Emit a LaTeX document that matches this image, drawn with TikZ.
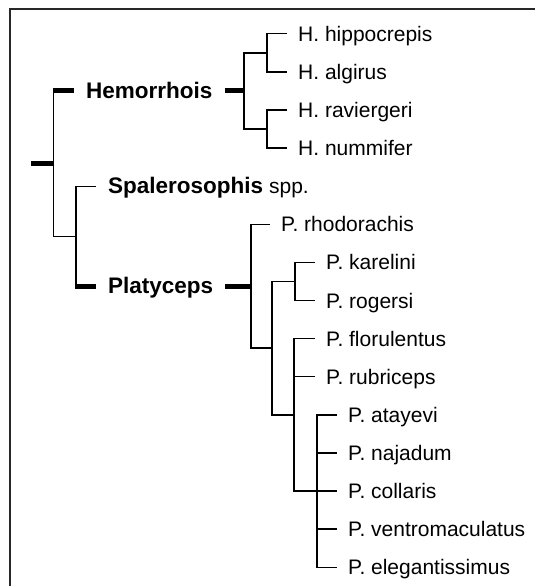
\documentclass[tikz,border=0pt]{standalone}
\usepackage{fontspec}
\setmainfont{Liberation Sans}
\definecolor{framec}{RGB}{40,40,40}
\newcommand\bd[1]{{\fontsize{22.5pt}{25pt}\selectfont\bfseries #1}}
\begin{document}
\begin{tikzpicture}[x=1pt,y=-1pt,
  branch/.style={line width=1.4pt, black},
  stub/.style={line width=5pt, black},
  frameline/.style={line width=2pt, framec},
  leaf/.style={anchor=west, inner xsep=11pt, inner ysep=0pt, text height=19pt, text depth=4pt,
    font=\fontsize{21pt}{24pt}\selectfont},
  clade/.style={anchor=west, inner xsep=12pt, inner ysep=0pt, text height=19pt, text depth=4pt,
    font=\fontsize{21pt}{24pt}\selectfont}]
\useasboundingbox (0,0) rectangle (535,586);
\draw[frameline] (10,590) -- (10,9.5) -- (540,9.5);

% leaves
\node[leaf] (hipp) at (287,33.8) {H. hippocrepis};
\node[leaf] (algi) at (287,71.9) {H. algirus};
\node[leaf] (ravi) at (287,110) {H. raviergeri};
\node[leaf] (numm) at (287,148.1) {H. nummifer};
\node[leaf] (rhod) at (270,224.3) {P. rhodorachis};
\node[leaf] (kare) at (315,262.4) {P. karelini};
\node[leaf] (roge) at (315,300.5) {P. rogersi};
\node[leaf] (flor) at (315,338.6) {P. florulentus};
\node[leaf] (rubr) at (315,376.7) {P. rubriceps};
\node[leaf] (atay) at (337,414.8) {P. atayevi};
\node[leaf] (naja) at (337,452.9) {P. najadum};
\node[leaf] (coll) at (337,491) {P. collaris};
\node[leaf] (vent) at (337,529.1) {P. ventromaculatus};
\node[leaf] (eleg) at (337,567.2) {P. elegantissimus};

% clade labels
\node[clade] (hem) at (74,90.95) {\bd{Hemorrhois}};
\node[clade] (spal) at (96,186.2) {\bd{Spalerosophis} spp.};
\node[clade] (pla) at (96,286.2) {\bd{Platyceps}};

% internal nodes
\coordinate (root0) at (31,163.6);
\coordinate (root) at (53.5,163.6);
\coordinate (hN) at (244,90.95);
\coordinate (hA) at (267,52.85);
\coordinate (hB) at (267,129.05);
\coordinate (sp) at (76,236.2);
\coordinate (pN) at (251,286.2);
\coordinate (q) at (272,348.1);
\coordinate (k) at (295,281.45);
\coordinate (f) at (294,414.8);
\coordinate (c) at (317,491);

% root
\draw[stub] (root0) -- (root);
\draw[branch] (root |- hem.west) -- (root |- sp) -- (sp);
\draw[stub] ([xshift=-0.7pt]root |- hem.west) -- (hem.west);

% Spalerosophis + Platyceps
\draw[branch] (sp |- spal.west) -- (sp |- pla.west);
\draw[branch] (sp |- spal.west) -- (spal.west);
\draw[stub] ([xshift=-0.7pt]sp |- pla.west) -- (pla.west);

% Hemorrhois
\draw[stub] (hem.east) -- (hN);
\draw[branch] (hA) -- (hN |- hA) -- (hN |- hB) -- (hB);
\draw[branch] (hipp.west) -| (hA) |- (algi.west);
\draw[branch] (ravi.west) -| (hB) |- (numm.west);

% Platyceps
\draw[stub] (pla.east) -- (pN);
\draw[branch] (rhod.west) -| (pN) |- (q);
\draw[branch] (k) -- (q |- k) -- (q |- f) -- (f);
\draw[branch] (kare.west) -| (k) |- (roge.west);
\draw[branch] (flor.west) -| (f |- c) -- (c);
\draw[branch] (rubr.west) -- (f |- rubr.west);
\draw[branch] (atay.west) -| (c) |- (eleg.west);
\draw[branch] (c) -- (coll.west);
\draw[branch] (c |- naja.west) -- (naja.west);
\draw[branch] (c |- vent.west) -- (vent.west);
\end{tikzpicture}
\end{document}
